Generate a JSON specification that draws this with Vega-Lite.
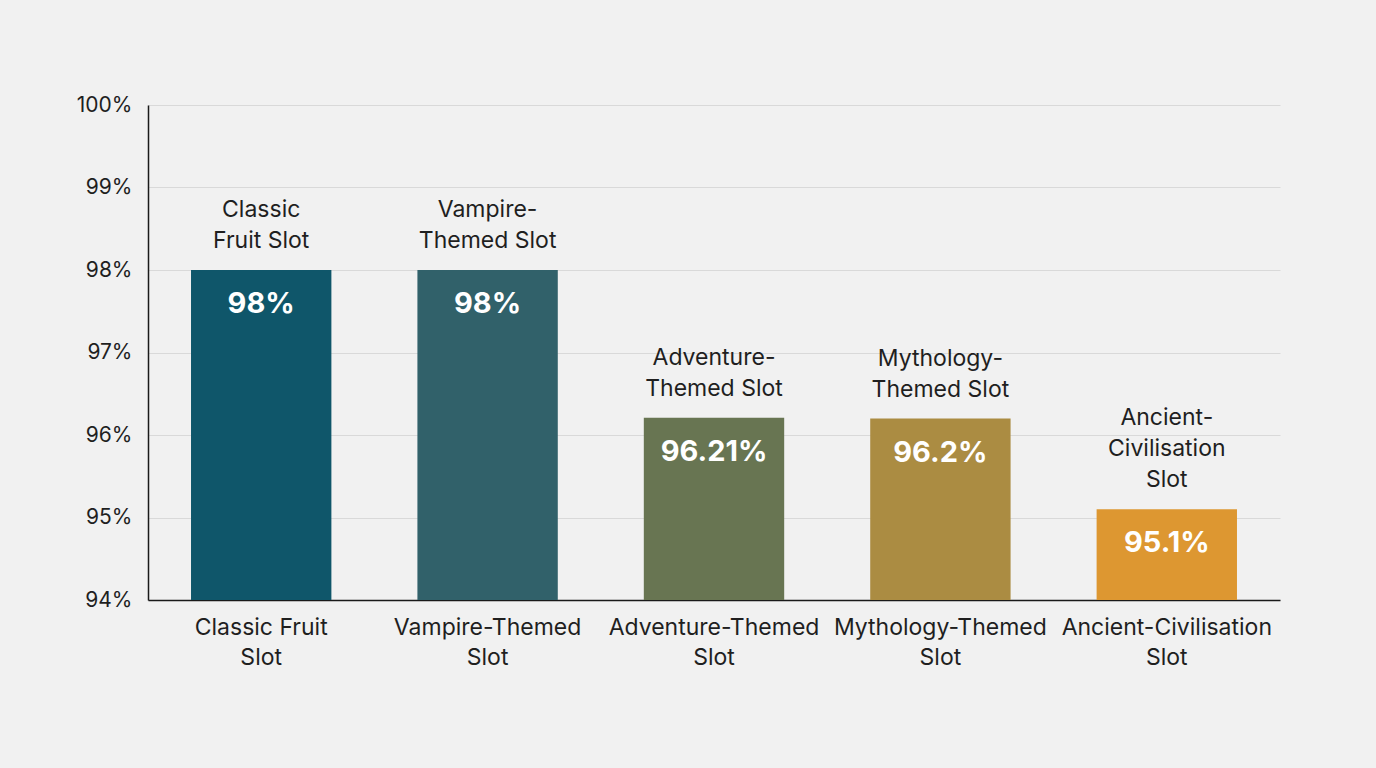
{
  "$schema": "https://vega.github.io/schema/vega-lite/v6.json",
  "width": 1132,
  "height": 495,
  "autosize": {"type": "none"},
  "padding": {"left": 148, "top": 105, "right": 96, "bottom": 168},
  "background": "#f1f1f1",
  "config": {
    "font": "Inter",
    "view": {"stroke": null},
    "axis": {"labelFont": "Inter", "labelColor": "#1f1f1f"},
    "text": {"font": "Inter"}
  },
  "data": {
    "values": [
      {"slot": "Classic Fruit Slot", "rtp": 98, "label": "98%", "h1": "Fruit Slot", "h2": "Classic", "h3": ""},
      {"slot": "Vampire-Themed Slot", "rtp": 98, "label": "98%", "h1": "Themed Slot", "h2": "Vampire-", "h3": ""},
      {"slot": "Adventure-Themed Slot", "rtp": 96.21, "label": "96.21%", "h1": "Themed Slot", "h2": "Adventure-", "h3": ""},
      {"slot": "Mythology-Themed Slot", "rtp": 96.2, "label": "96.2%", "h1": "Themed Slot", "h2": "Mythology-", "h3": ""},
      {"slot": "Ancient-Civilisation Slot", "rtp": 95.1, "label": "95.1%", "h1": "Slot", "h2": "Civilisation", "h3": "Ancient-"}
    ]
  },
  "encoding": {
    "x": {
      "field": "slot",
      "type": "nominal",
      "sort": null,
      "title": null,
      "scale": {"paddingInner": 0.38, "paddingOuter": 0.19},
      "axis": {
        "labelAngle": 0,
        "labelFontSize": 23,
        "labelLineHeight": 30,
        "labelPadding": 16,
        "labelLimit": 400,
        "labelBaseline": "top",
        "labelExpr": "[replace(datum.label, ' Slot', ''), 'Slot']",
        "ticks": false,
        "domainColor": "#1a1a1a",
        "domainWidth": 1.5
      }
    },
    "y": {
      "field": "rtp",
      "type": "quantitative",
      "title": null,
      "scale": {"domain": [94, 100], "nice": false, "zero": false},
      "axis": {
        "values": [94, 95, 96, 97, 98, 99, 100],
        "labelExpr": "datum.value + '%'",
        "labelFontSize": 21,
        "labelPadding": 16,
        "ticks": false,
        "grid": true,
        "gridColor": "#d9d9d9",
        "gridWidth": 1,
        "domainColor": "#1a1a1a",
        "domainWidth": 1.5
      }
    }
  },
  "layer": [
    {
      "mark": {"type": "bar", "clip": true},
      "encoding": {
        "y2": {"datum": 94},
        "color": {
          "field": "slot",
          "type": "nominal",
          "legend": null,
          "scale": {
            "domain": ["Classic Fruit Slot", "Vampire-Themed Slot", "Adventure-Themed Slot", "Mythology-Themed Slot", "Ancient-Civilisation Slot"],
            "range": ["#0f566a", "#31616a", "#687552", "#ab8c42", "#dd9731"]
          }
        }
      }
    },
    {
      "mark": {"type": "text", "baseline": "middle", "align": "center", "dy": -29, "fontSize": 23, "color": "#1f1f1f"},
      "encoding": {"text": {"field": "h1"}}
    },
    {
      "mark": {"type": "text", "baseline": "middle", "align": "center", "dy": -60, "fontSize": 23, "color": "#1f1f1f"},
      "encoding": {"text": {"field": "h2"}}
    },
    {
      "mark": {"type": "text", "baseline": "middle", "align": "center", "dy": -91, "fontSize": 23, "color": "#1f1f1f"},
      "encoding": {"text": {"field": "h3"}}
    },
    {
      "mark": {"type": "text", "baseline": "middle", "align": "center", "dy": 34, "fontSize": 29, "fontWeight": "bold", "color": "#ffffff"},
      "encoding": {"text": {"field": "label"}}
    }
  ]
}
